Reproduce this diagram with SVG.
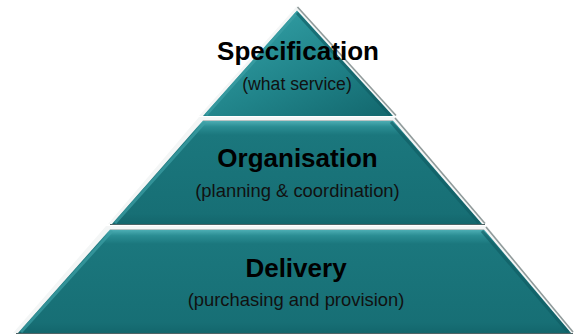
<svg xmlns="http://www.w3.org/2000/svg" width="574" height="335" viewBox="0 0 574 335">
  <defs>
    <linearGradient id="tealV" x1="0" y1="0" x2="0" y2="1">
      <stop offset="0" stop-color="#4fb0b6"/>
      <stop offset="0.06" stop-color="#2a8d93"/>
      <stop offset="0.14" stop-color="#1b777d"/>
      <stop offset="0.9" stop-color="#176f75"/>
      <stop offset="1" stop-color="#13666c"/>
    </linearGradient>
    <linearGradient id="tealTri" x1="0.2" y1="0.2" x2="0.9" y2="1">
      <stop offset="0" stop-color="#2f9aa0"/>
      <stop offset="0.5" stop-color="#208389"/>
      <stop offset="1" stop-color="#146a70"/>
    </linearGradient>
  </defs>
  <style>
    .hl { fill: #f4f6f6; }
    .body { fill: url(#tealV); }
    .tri { fill: url(#tealTri); }
    .shade { fill: none; stroke: #8f9a9a; stroke-width: 1.6; }
    .topline { fill: none; stroke: #b9c4c4; stroke-width: 1; }
    .bevelL { fill: none; stroke: #3d9fa5; stroke-width: 3; stroke-opacity: 0.7; }
    .bevelR { fill: none; stroke: #0f5a60; stroke-width: 3; stroke-opacity: 0.6; }
    .bottom { fill: none; stroke: #4d6466; stroke-width: 1; }
    .title { font-family: "Liberation Sans", Arial, sans-serif; font-weight: bold; font-size: 26px; fill: #000; text-anchor: middle; }
    .sub { font-family: "Liberation Sans", Arial, sans-serif; font-size: 18.4px; fill: #111; text-anchor: middle; }
  </style>
  <rect width="574" height="335" fill="#ffffff"/>

  <g id="level-delivery">
    <polygon class="hl" points="106,226 487,226 574,333 13,333"/>
    <polygon class="body" points="110,229.5 484,229.5 571,333 18,333"/>
    <line class="bevelL" x1="112" y1="231" x2="21" y2="332"/>
    <line class="bevelR" x1="482" y1="231" x2="568" y2="332"/>
    <line class="topline" x1="110" y1="229.5" x2="484" y2="229.5"/>
    <line class="shade" x1="486" y1="227" x2="573" y2="332"/>
    <line class="bottom" x1="16" y1="333.5" x2="573" y2="333.5"/>
    <text class="title" x="296" y="277">Delivery</text>
    <text class="sub" x="296" y="306">(purchasing and provision)</text>
  </g>

  <g id="level-organisation">
    <polygon class="hl" points="199,117 396,117 485,224 108,224"/>
    <polygon class="body" points="203,120.5 393,120.5 482,224 112,224"/>
    <line class="bevelL" x1="205" y1="122" x2="115" y2="223"/>
    <line class="bevelR" x1="391" y1="122" x2="479" y2="223"/>
    <line class="topline" x1="203" y1="120.5" x2="393" y2="120.5"/>
    <line class="shade" x1="395" y1="118" x2="485" y2="223.5"/>
    <line class="bottom" x1="110" y1="224.5" x2="485" y2="224.5"/>
    <text class="title" x="297.5" y="167">Organisation</text>
    <text class="sub" x="297.5" y="197">(planning &amp; coordination)</text>
  </g>

  <g id="level-specification">
    <polygon class="hl" points="297,6 396,116 199,116"/>
    <polygon class="tri" points="297,10.5 393,116 203,116"/>
    <line class="bevelL" x1="297" y1="13" x2="206" y2="115"/>
    <line class="bevelR" x1="297" y1="13" x2="390" y2="115"/>
    <line class="shade" x1="297.5" y1="7" x2="396" y2="115.5"/>
    <text class="title" x="298" y="60">Specification</text>
    <text class="sub" x="297" y="90" style="font-size:17.6px">(what service)</text>
  </g>

  <g id="connectors"></g>
</svg>
